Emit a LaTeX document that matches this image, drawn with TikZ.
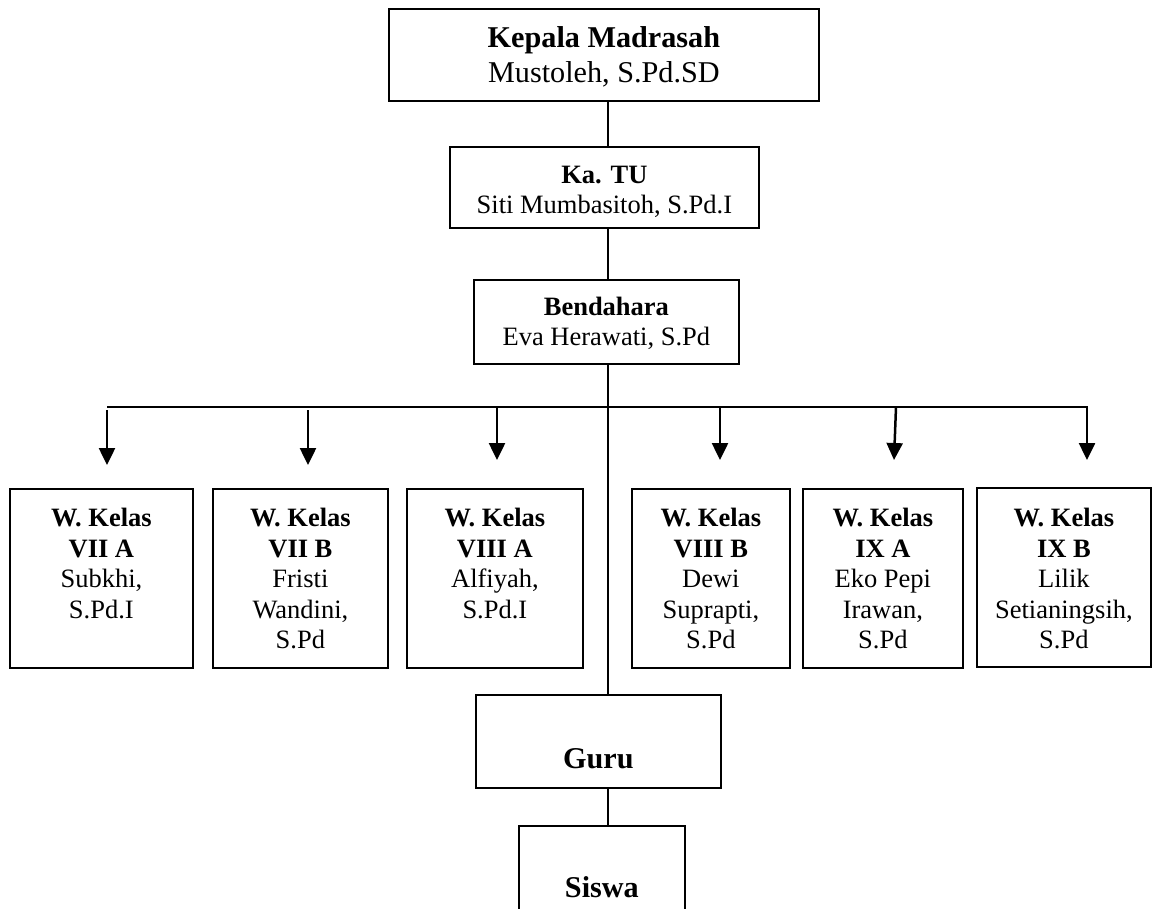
\documentclass[tikz,border=0pt]{standalone}
\usepackage{fontspec}
\setmainfont{Liberation Serif}
\usetikzlibrary{arrows.meta}
\newcommand{\cellbox}[4]{\parbox[c][#2pt][t]{#1pt}{\centering\rule{0pt}{#3pt}#4}}
\tikzset{
  box/.style={draw, line width=1.8pt, inner sep=0pt, anchor=north west},
  big/.style={font=\fontsize{30.2}{34.5}\selectfont},
  small/.style={font=\fontsize{26.5}{30.5}\selectfont},
  conn/.style={line width=1.6pt},
  arr/.style={line width=2.5pt, -{Triangle[width=16pt,length=17pt]}}
}
\begin{document}
\begin{tikzpicture}[x=1pt,y=-1pt]
\clip (0,0) rectangle (1156,908);
\fill[white] (0,0) rectangle (1156,908);
\coordinate (spine) at (608,0);
% top boxes
\node[box, big] (kepala) at (388,8) {\cellbox{430}{92}{39}{\textbf{Kepala Madrasah}\\Mustoleh, S.Pd.SD}};
\node[box, font=\fontsize{26.5}{29.5}\selectfont] (tu) at (449,146) {\cellbox{309}{81}{37}{\textbf{Ka. TU}\\Siti Mumbasitoh, S.Pd.I}};
\node[box, font=\fontsize{26.5}{30}\selectfont] (bend) at (473,279) {\cellbox{265}{84}{36}{\textbf{Bendahara}\\Eva Herawati, S.Pd}};
% wali kelas
\node[box, small] (k1) at (9,488) {\cellbox{183}{179}{38}{\textbf{W. Kelas}\\\textbf{VII A}\\Subkhi,\\S.Pd.I}};
\node[box, small] (k2) at (212,488) {\cellbox{175}{179}{38}{\textbf{W. Kelas}\\\textbf{VII B}\\Fristi\\Wandini,\\S.Pd}};
\node[box, small] (k3) at (406,488) {\cellbox{176}{179}{38}{\textbf{W. Kelas}\\\textbf{VIII A}\\Alfiyah,\\S.Pd.I}};
\node[box, small] (k4) at (631,488) {\cellbox{158}{179}{38}{\textbf{W. Kelas}\\\textbf{VIII B}\\Dewi\\Suprapti,\\S.Pd}};
\node[box, small] (k5) at (802,488) {\cellbox{160}{179}{38}{\textbf{W. Kelas}\\\textbf{IX A}\\Eko Pepi\\Irawan,\\S.Pd}};
\node[box, small] (k6) at (976,487) {\cellbox{174}{179}{39}{\textbf{W. Kelas}\\\textbf{IX B}\\Lilik\\Setianingsih,\\S.Pd}};
% guru, siswa
\node[box, big] (guru) at (475,694) {\cellbox{245}{93}{74}{\textbf{Guru}}};
\node[box, big] (siswa) at (518,825) {\cellbox{166}{100}{72}{\textbf{Siswa}}};
% connectors
\draw[conn] (kepala.south -| spine) -- (tu.north -| spine);
\draw[conn] (tu.south -| spine) -- (bend.north -| spine);
\draw[conn] (bend.south -| spine) -- (guru.north -| spine);
\draw[conn] (guru.south -| spine) -- (siswa.north -| spine);
\coordinate (hl) at (107,407);
\coordinate (hr) at (1088,407);
\draw[conn] (hl) -- (hr);
\foreach \i/\xs/\ys/\xe/\ye in {1/107/410/107/465, 2/308/410/308/465, 3/497/407/497/460, 4/720/407/720/460, 5/896/407/894/460, 6/1087/407/1087/460}{
  \coordinate (a\i s) at (\xs,\ys);
  \coordinate (a\i e) at (\xe,\ye);
  \draw[arr] (a\i s) -- (a\i e);
}
\end{tikzpicture}
\end{document}
